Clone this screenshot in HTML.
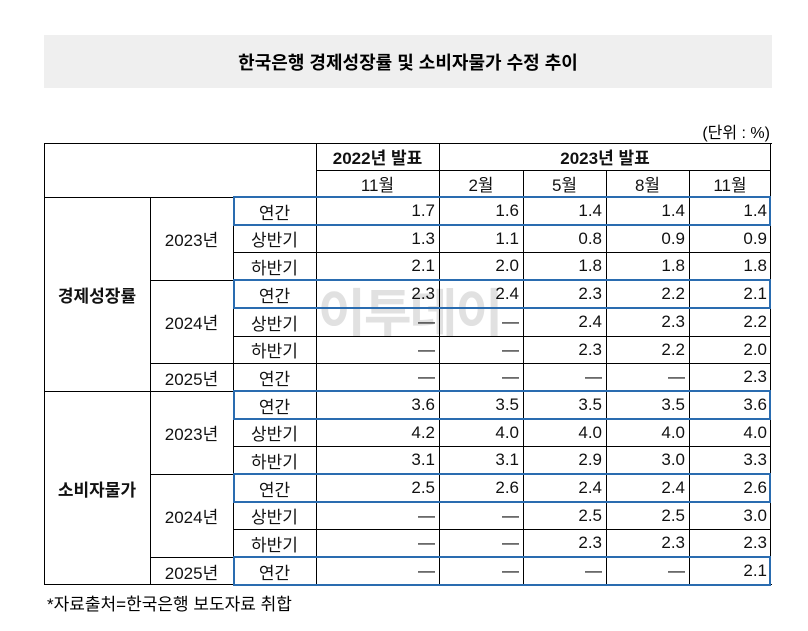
<!DOCTYPE html>
<html><head><meta charset="utf-8"><style>
body{margin:0;width:808px;height:631px;background:#fff;font-family:"Liberation Sans","Noto Sans CJK KR","NanumGothic",sans-serif;position:relative;overflow:hidden}
.a{position:absolute;box-sizing:border-box}
.t{font-size:17px;color:#111;display:flex;align-items:center}
.ln{background:#000}
.blue{border:2px solid #2a6cb0}
</style></head><body>
<div class="a" style="left:44px;top:35px;width:728px;height:53px;background:#efefef;display:flex;align-items:center;justify-content:center;font-weight:bold;font-size:18px">한국은행 경제성장률 및 소비자물가 수정 추이</div>
<div class="a" style="right:38px;top:119px;font-size:16px">(단위 : %)</div>
<div class="a" style="left:47px;top:590px;font-size:17px">*자료출처=한국은행 보도자료 취합</div>
<div class="a" style="left:318px;top:272px;font-size:52px;color:rgba(200,200,200,0.55);font-weight:bold;letter-spacing:-2px">이투데이</div>
<div id="tbl"></div>
<script>
const cols=[44,150,233,316,439,523,606,689,771];
const rows=[143,170,197,225,252,280,308,336,363,391,419,446,474,502,529,557,585];
const periods=['연간','상반기','하반기','연간','상반기','하반기','연간','연간','상반기','하반기','연간','상반기','하반기','연간'];
const v2211=['1.7','1.3','2.1','2.3','—','—','—','3.6','4.2','3.1','2.5','—','—','—'];
const v2302=['1.6','1.1','2.0','2.4','—','—','—','3.5','4.0','3.1','2.6','—','—','—'];
const v2305=['1.4','0.8','1.8','2.3','2.4','2.3','—','3.5','4.0','2.9','2.4','2.5','2.3','—'];
const v2308=['1.4','0.9','1.8','2.2','2.3','2.2','—','3.5','4.0','3.0','2.4','2.5','2.3','—'];
const v2311=['1.4','0.9','1.8','2.1','2.2','2.0','2.3','3.6','4.0','3.3','2.6','3.0','2.3','2.1'];
const series=[v2211,v2302,v2305,v2308,v2311];
const root=document.getElementById('tbl');
function cell(x1,y1,x2,y2,txt,align,bold,name){
 const d=document.createElement('div');d.className='a t';
 d.style.left=x1+'px';d.style.top=y1+'px';d.style.width=(x2-x1)+'px';d.style.height=(y2-y1)+'px';
 d.style.justifyContent=align==='r'?'flex-end':'center';if(align==='r')d.style.paddingRight='4px';
 if(bold)d.style.fontWeight='bold';d.textContent=txt;
 
 
 root.appendChild(d);}
function line(x,y,w,h){const d=document.createElement('div');d.className='a ln';
 d.style.left=x+'px';d.style.top=y+'px';d.style.width=w+'px';d.style.height=h+'px';
 
 
 root.appendChild(d);}
line(44,143,728,1);line(44,584,728,1);line(44,143,1,442);line(770,143,1,442);
line(316,170,455,1);line(44,197,727,1);line(439,143,1,442);line(316,143,1,442);
[523,606,689].forEach(x=>line(x,170,1,415));
line(150,197,1,388);line(233,197,1,388);
line(44,391,727,1);
for(let i=1;i<14;i++){if(i===7)continue;const y=rows[i+2];
 const x=(i===3||i===6||i===10||i===13)?150:233;line(x,y,771-x,1);}
cell(316,143,439,170,'2022년 발표','c',true,'header-2022');
cell(439,143,771,170,'2023년 발표','c',true,'header-2023');
['11월','2월','5월','8월','11월'].forEach((m,i)=>cell(cols[3+i],170,cols[4+i],197,m,'c',false,'header-month'));
cell(44,197,150,391,'경제성장률','c',true,'gdp-label');
cell(44,391,150,585,'소비자물가','c',true,'cpi-label');
[[0,3,'2023년'],[3,6,'2024년'],[6,7,'2025년'],[7,10,'2023년'],[10,13,'2024년'],[13,14,'2025년']].forEach(g=>cell(150,rows[g[0]+2],233,rows[g[1]+2],g[2],'c',false,'year-label'));
periods.forEach((p,i)=>{cell(233,rows[i+2],316,rows[i+3],p,'c',false,'period-label');
 series.forEach((s,j)=>cell(cols[3+j],rows[i+2],cols[4+j],rows[i+3],s[i],'r',false,'value-cell'));});
[0,3,7,10,13].forEach(i=>{const d=document.createElement('div');d.className='a blue';
 d.style.left='233px';d.style.top=(rows[i+2]-1)+'px';d.style.width='538px';d.style.height=(rows[i+3]-rows[i+2]+2)+'px';
 
 
 root.appendChild(d);});
</script>
</body></html>
